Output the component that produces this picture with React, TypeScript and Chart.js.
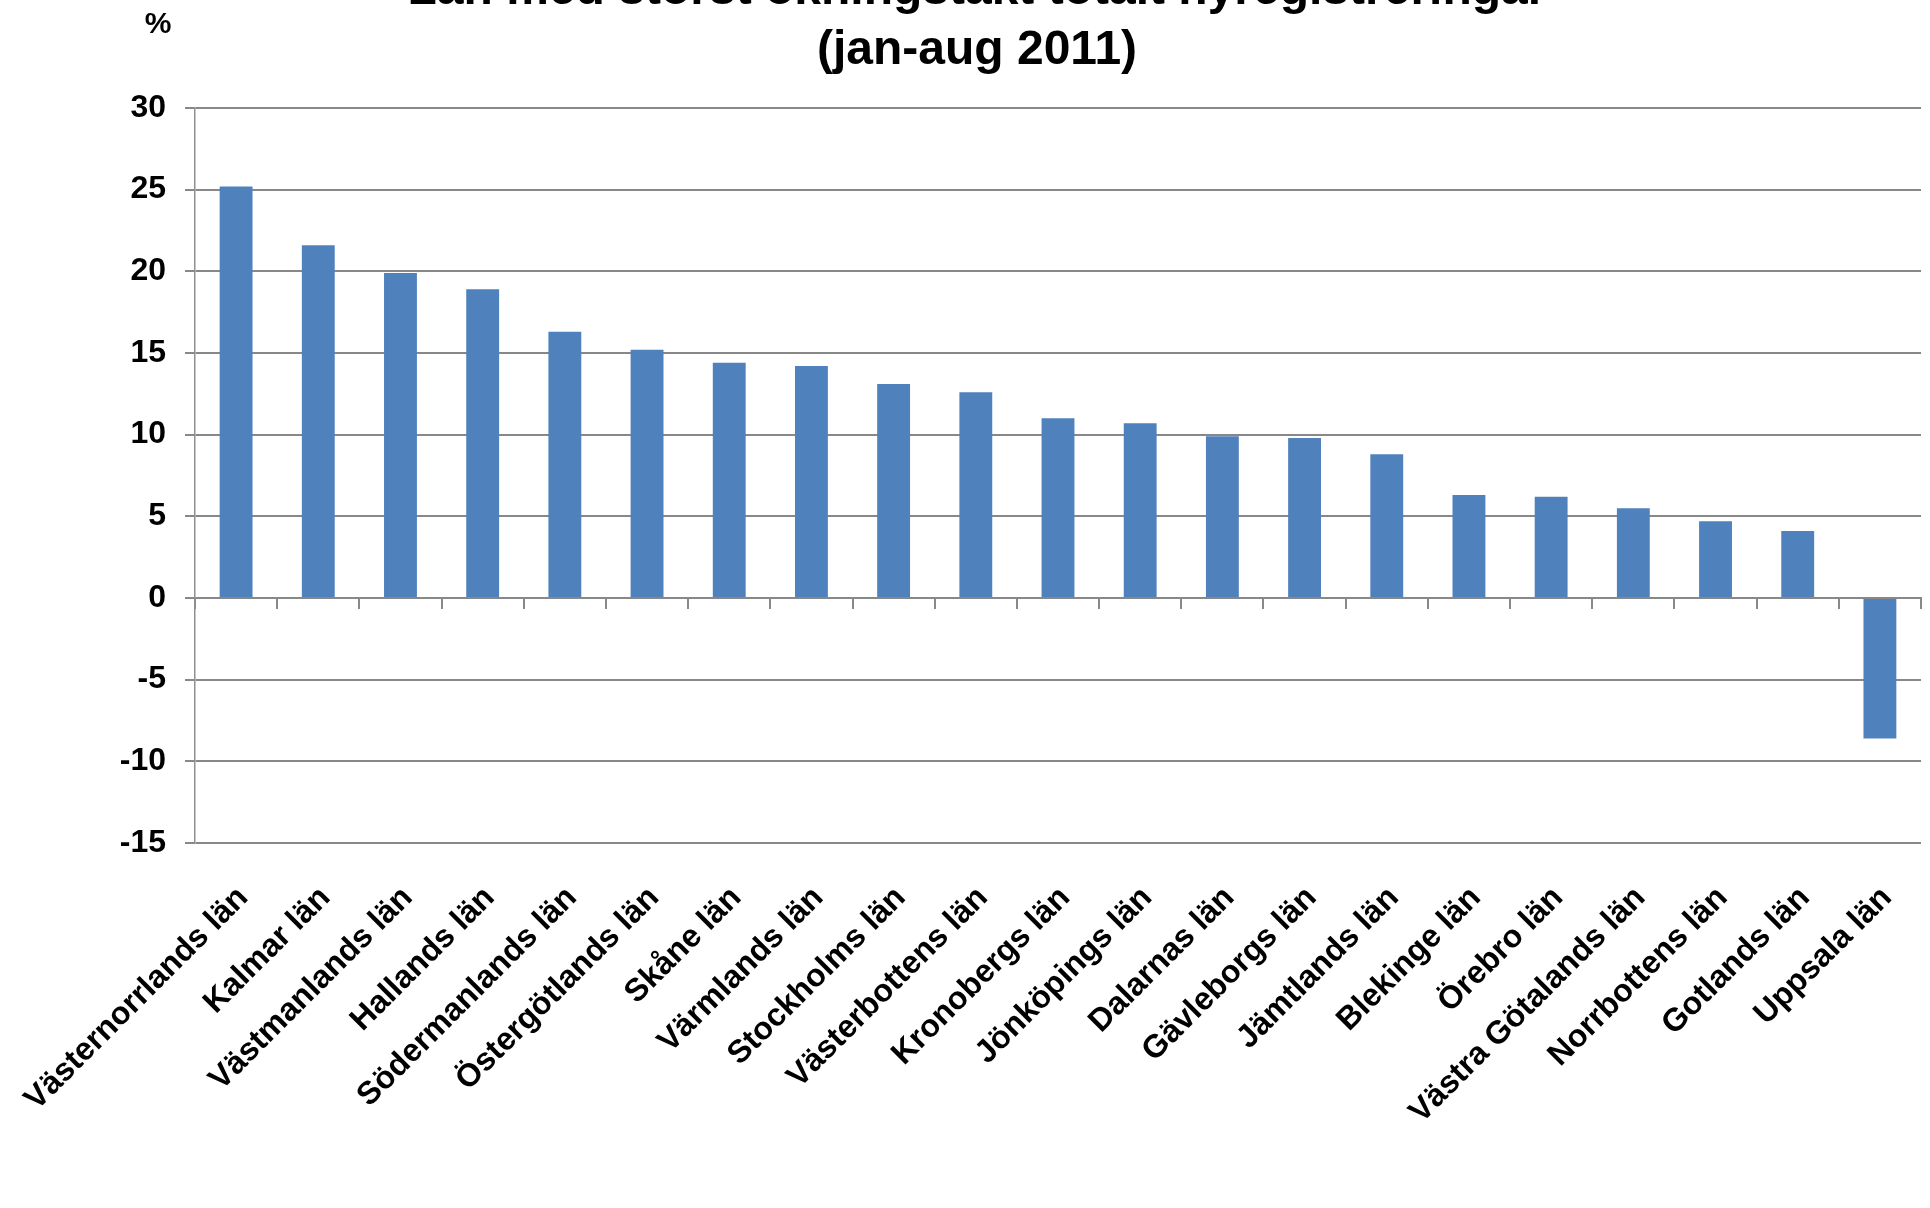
import { useRef, useEffect } from 'react';
import { Chart, registerables } from 'chart.js';
import type { Plugin } from 'chart.js';

Chart.register(...registerables);

const FONT = '"Liberation Sans", Arial, sans-serif';

const TITLE_LINES = ['Län med störst ökningstakt totalt nyregistreringar', '(jan-aug 2011)'];
const UNIT_LABEL = '%';

const COUNTIES = [
  'Västernorrlands län', 'Kalmar län', 'Västmanlands län', 'Hallands län',
  'Södermanlands län', 'Östergötlands län', 'Skåne län', 'Värmlands län',
  'Stockholms län', 'Västerbottens län', 'Kronobergs län', 'Jönköpings län',
  'Dalarnas län', 'Gävleborgs län', 'Jämtlands län', 'Blekinge län',
  'Örebro län', 'Västra Götalands län', 'Norrbottens län', 'Gotlands län',
  'Uppsala län',
];

const GROWTH = [
  25.2, 21.6, 19.9, 18.9, 16.3, 15.2, 14.4, 14.2, 13.1, 12.6, 11.0,
  10.7, 9.9, 9.8, 8.8, 6.3, 6.2, 5.5, 4.7, 4.1, -8.6,
];

const Y_MIN = -15;
const Y_MAX = 30;
const Y_STEP = 5;

// the title's first line sits partly above the page edge
const SHIFT = 49;

const unitLabel: Plugin<'bar'> = {
  id: 'unitLabel',
  afterDraw(chart) {
    const { ctx, chartArea } = chart;
    ctx.save();
    ctx.font = `bold 30px ${FONT}`;
    ctx.fillStyle = '#000';
    ctx.textAlign = 'center';
    ctx.textBaseline = 'middle';
    ctx.fillText(UNIT_LABEL, chartArea.left - 37, chartArea.top - 83);
    ctx.restore();
  },
};

export default function App() {
  const canvasRef = useRef<HTMLCanvasElement>(null);
  const chartRef = useRef<Chart | null>(null);

  useEffect(() => {
    if (!canvasRef.current) return;
    chartRef.current?.destroy();
    chartRef.current = new Chart(canvasRef.current, {
      type: 'bar',
      data: {
        labels: COUNTIES,
        datasets: [{
          data: GROWTH,
          backgroundColor: '#4f81bd',
          borderWidth: 0,
          barPercentage: 0.4,
          categoryPercentage: 1,
          xAxisID: 'x',
          yAxisID: 'y',
        }],
      },
      options: {
        responsive: true,
        maintainAspectRatio: false,
        animation: false,
        layout: { padding: { left: 33, right: 9, top: 0, bottom: 0 } },
        plugins: {
          legend: { display: false },
          tooltip: { enabled: false },
          title: {
            display: true,
            text: TITLE_LINES,
            color: '#000',
            font: { family: FONT, size: 48, weight: 'bold', lineHeight: 1.25 },
            padding: { top: 10, bottom: 27 },
          },
        },
        scales: {
          x: {
            type: 'category',
            position: 'bottom',
            offset: true,
            grid: { display: false },
            border: { display: false },
            ticks: {
              autoSkip: false,
              maxRotation: 45,
              minRotation: 45,
              padding: 28,
              labelOffset: 7,
              color: '#000',
              font: { family: FONT, size: 32, weight: 'bold' },
            },
            afterFit: (scale) => {
              scale.height = 365;
              // rotated labels may hang left of the plot, as in the original
              scale.paddingLeft = 0;
              scale.paddingRight = 0;
            },
          },
          x2: {
            type: 'category',
            axis: 'x',
            position: { y: 0 },
            offset: true,
            grid: {
              offset: true,
              drawOnChartArea: false,
              drawTicks: true,
              tickLength: 10,
              color: '#888',
              lineWidth: 2,
            },
            border: { display: true, color: '#888', width: 2 },
            ticks: { display: false },
          },
          y: {
            min: Y_MIN,
            max: Y_MAX,
            grid: { color: '#888', lineWidth: 2, tickLength: 10 },
            border: { display: true, color: '#8f8f8f', width: 1.5 },
            ticks: {
              stepSize: Y_STEP,
              padding: 19,
              color: '#000',
              font: { family: FONT, size: 32, weight: 'bold' },
            },
            afterFit: (scale) => { scale.width = 162; },
          },
        },
      },
      plugins: [unitLabel],
    });
    return () => {
      chartRef.current?.destroy();
      chartRef.current = null;
    };
  }, []);

  return (
    <div style={{ position: 'fixed', left: 0, top: 0, width: 1930, height: 1208, overflow: 'hidden', background: '#fff' }}>
      <div style={{ position: 'absolute', left: 0, top: -SHIFT, width: 1930, height: 1208 + SHIFT }}>
        <canvas ref={canvasRef} />
      </div>
    </div>
  );
}
